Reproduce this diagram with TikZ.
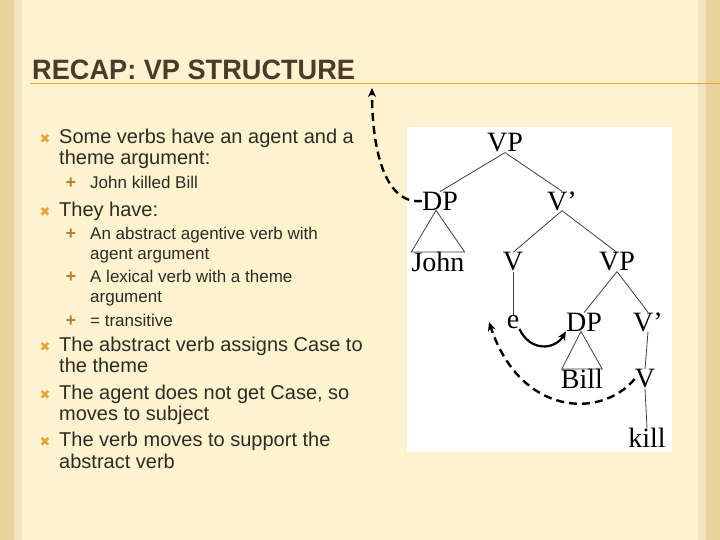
\documentclass[tikz,border=0pt]{standalone}
\usepackage{fontspec}
\setmainfont{Liberation Sans}
\newfontfamily\treefont{Liberation Serif}
\newfontfamily\symfont{DejaVu Sans}
\usetikzlibrary{arrows.meta}
\definecolor{bg}{HTML}{FDF3CF}
\definecolor{edge}{HTML}{E9D39A}
\definecolor{titlec}{HTML}{4A3C2A}
\definecolor{orangec}{HTML}{E8A33C}
\definecolor{bodyc}{HTML}{2E2A25}
\tikzset{
  body/.style={anchor=base west,text=bodyc,font=\fontsize{20}{22}\selectfont,inner sep=0},
  sub/.style={anchor=base west,text=bodyc,font=\fontsize{17}{19}\selectfont,inner sep=0},
  bul/.style={anchor=base,text=orangec,font=\symfont\fontsize{13}{13}\selectfont,inner sep=0},
  sbul/.style={anchor=base,text=orangec!80!black,font=\bfseries\fontsize{18}{18}\selectfont,inner sep=0},
  tn/.style={font=\treefont\fontsize{28}{28}\selectfont,inner sep=0pt,text=black},
  br/.style={draw=black!75,line width=0.8pt},
  mv/.style={line width=2.4pt,dashed,dash pattern=on 8pt off 5pt,-{Stealth[length=9pt,width=8pt]}}
}
\begin{document}
\begin{tikzpicture}[x=1pt,y=-1pt]
\useasboundingbox (0,0) rectangle (720,540);
\fill[bg] (0,0) rectangle (720,540);
\fill[edge] (0,0) rectangle (14,540);
\fill[edge] (706,0) rectangle (720,540);
\fill[edge!60] (14,0) rectangle (22,540);
\fill[edge!60] (698,0) rectangle (706,540);
\node[anchor=base west,text=titlec,font=\bfseries\fontsize{28}{30}\selectfont,inner sep=0,xscale=0.97] (title) at (32,80) {RECAP: VP STRUCTURE};
\draw[orangec,line width=1pt] (30,84) -- (720,84);
% text
\node[bul] (b1) at (45,144) {✖};
\node[body] (t1) at (59,144) {Some verbs have an agent and a};
\node[body] (t1b) at (59,165) {theme argument:};
\node[sbul] (s1) at (71,189) {+};
\node[sub] (u1) at (90,189) {John killed Bill};
\node[bul] (b2) at (45,216) {✖};
\node[body] (t2) at (59,216) {They have:};
\node[sbul] (s2) at (71,240) {+};
\node[sub] (u2) at (90,240) {An abstract agentive verb with};
\node[sub] (u2b) at (90,259) {agent argument};
\node[sbul] (s3) at (71,282) {+};
\node[sub] (u3) at (90,282) {A lexical verb with a theme};
\node[sub] (u3b) at (90,302) {argument};
\node[sbul] (s4) at (71,326) {+};
\node[sub] (u4) at (90,326) {= transitive};
\node[bul] (b3) at (45,351) {✖};
\node[body] (t3) at (59,351) {The abstract verb assigns Case to};
\node[body] (t3b) at (59,372) {the theme};
\node[bul] (b4) at (45,399) {✖};
\node[body] (t4) at (59,399) {The agent does not get Case, so};
\node[body] (t4b) at (59,420) {moves to subject};
\node[bul] (b5) at (45,446) {✖};
\node[body] (t5) at (59,446) {The verb moves to support the};
\node[body] (t5b) at (59,468) {abstract verb};
% tree
\fill[white] (407,127) rectangle (672,452);
\node[tn] (vp) at (505,143) {VP};
\node[tn] (dp) at (440,201) {DP};
\node[tn] (vb) at (562,201) {V’};
\node[tn] (john) at (438,262) {John};
\node[tn] (v) at (513,262) {V};
\node[tn] (vp2) at (617,262) {VP};
\node[tn] (e) at (513,322) {e};
\node[tn] (dp2) at (584,322) {DP};
\node[tn] (vb2) at (648,322) {V’};
\node[tn] (bill) at (582,379) {Bill};
\node[tn] (v2) at (645,379) {V};
\node[tn] (kill) at (647,438) {kill};
\draw[br] (vp.south) -- (dp.north);
\draw[br] (vp.south) -- (vb.north);
\draw[br] (vb.south) -- (v.north);
\draw[br] (vb.south) -- (vp2.north);
\draw[br] (vp2.south) -- (dp2.north);
\draw[br] (vp2.south) -- (vb2.north);
\draw[br] (v.south) -- (e.north);
\draw[br] (vb2.south) -- (v2.north);
\draw[br] (v2.south) -- (kill.north);
\draw[br] ([xshift=-4pt]dp.south) -- (john.north west) -- (john.north east) -- cycle;
\draw[br] ([xshift=-3pt]dp2.south) -- ([xshift=1pt]bill.north west) -- ([xshift=-1pt]bill.north east) -- cycle;
\coordinate (top) at (372,88);
\coordinate (eleft) at (489,322);
\draw[mv] (dp.west) .. controls (385,205) and (372,150) .. (top);
\draw[line width=2.2pt,-{Stealth[length=9pt,width=8pt]}] (e.south east) .. controls (530,352) and (555,350) .. (dp2.south west);
\draw[mv] (v2.west) .. controls (600,420) and (520,415) .. (eleft);
\end{tikzpicture}
\end{document}
